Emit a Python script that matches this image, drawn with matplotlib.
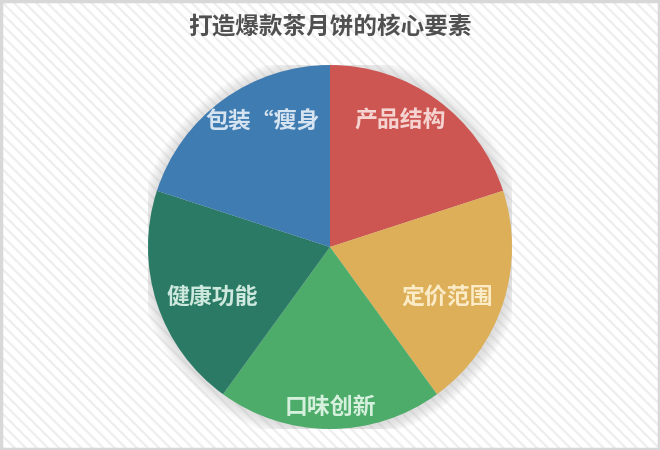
import matplotlib.pyplot as plt
import matplotlib.patches as mpatches
import numpy as np

plt.rcParams['font.family'] = ['Noto Sans CJK SC', 'DejaVu Sans']
plt.rcParams['hatch.linewidth'] = 1.6

# datos
categorias = ['产品结构', '定价范围', '口味创新', '健康功能', '包装“瘦身']
valores = [20, 20, 20, 20, 20]
colores = ['#CE5652', '#DCAF58', '#4DAC6A', '#2B7A65', '#3F7CB1']
colores_texto = ['#F4D3D0', '#FBEBC6', '#D5F0DC', '#CDE8DD', '#D6E3F0']

# posicion de etiquetas (radio, desplazamiento angular en grados)
radio_etiqueta = [0.80, 0.70, 0.87, 0.70, 0.79]
desp_etiqueta = [7, -5, 0, 4.5, -8]

fig = plt.figure(figsize=(6.6, 4.5), dpi=100)
fig.patch.set_facecolor('white')

# fondo rayado
fondo = mpatches.Rectangle((0, 0), 1, 1, transform=fig.transFigure,
                           facecolor='white', edgecolor='#EEEEEE',
                           hatch='\\\\\\', linewidth=0, zorder=-10)
fig.patches.append(fondo)
borde = mpatches.Rectangle((0.002, 0.003), 0.996, 0.994, transform=fig.transFigure,
                           facecolor='none', edgecolor='#D8D8D8', linewidth=2.5, zorder=-5)
fig.patches.append(borde)

ax = fig.add_axes([148 / 660, 21 / 450, 364 / 660, 364 / 450])
ax.set_xlim(-1, 1)
ax.set_ylim(-1, 1)
ax.axis('off')

# sombra suave
for i in range(12):
    r = 1.0 + 0.006 * (i + 1)
    ax.add_patch(mpatches.Circle((0.004, -0.006), r, color='#A0A0A0',
                                 alpha=0.028, linewidth=0, zorder=0))

wedges, _ = ax.pie(valores, colors=colores, startangle=90, counterclock=False,
                   radius=1.0, wedgeprops=dict(linewidth=0, zorder=2))
ax.set_xlim(-1, 1)
ax.set_ylim(-1, 1)

for w, lab, c, r, d in zip(wedges, categorias, colores_texto, radio_etiqueta, desp_etiqueta):
    ang = np.deg2rad((w.theta1 + w.theta2) / 2 + d)
    ax.text(r * np.cos(ang), r * np.sin(ang) - 0.01, lab, color=c, fontsize=16.5,
            fontweight='bold', ha='center', va='center', zorder=5)

fig.text(0.5, 0.94, '打造爆款茶月饼的核心要素', ha='center', va='center',
         fontsize=17, fontweight='bold', color='#505050')

plt.savefig('out.png', dpi=100)
